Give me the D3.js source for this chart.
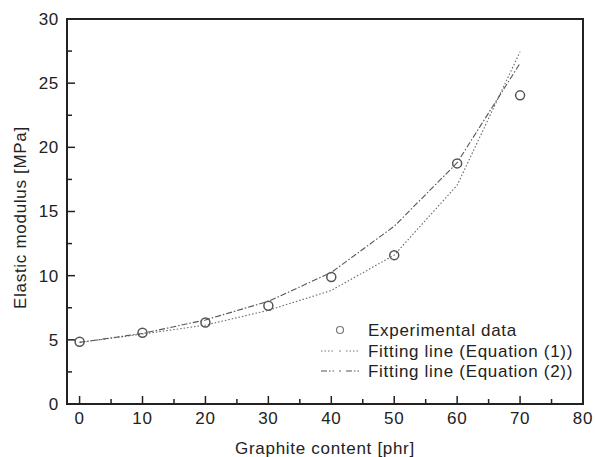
<!DOCTYPE html>
<html>
<head>
<meta charset="utf-8">
<script src="https://cdn.jsdelivr.net/npm/d3@7"></script>
<style>
  body { margin: 0; background: #fff; }
  svg text { font-family: "Liberation Sans", Arial, sans-serif; fill: #222; font-size: 17px; letter-spacing: 0.7px; }
</style>
</head>
<body>
<svg width="595" height="457"></svg>
<script>
const content = [0, 10, 20, 30, 40, 50, 60, 70];
const experimental = [4.85, 5.55, 6.35, 7.65, 9.9, 11.6, 18.75, 24.05];
const equation1 = [4.8, 5.45, 6.15, 7.3, 8.85, 11.6, 17.05, 27.45];
const equation2 = [4.8, 5.5, 6.55, 8.0, 10.25, 13.85, 18.8, 26.55];
const xTicks = [0, 10, 20, 30, 40, 50, 60, 70, 80];
const yTicks = [0, 5, 10, 15, 20, 25, 30];

const svg = d3.select("svg");
const plotLeft = 67, plotRight = 583, plotTop = 19, plotBottom = 404;

const x = d3.scaleLinear().domain([-2, 80]).range([plotLeft, plotRight]);
const y = d3.scaleLinear().domain([0, 30]).range([plotBottom, plotTop]);

const stroke = "#222";

// tick marks pointing inward
const g = svg.append("g");
d3.range(0, 81, 5).forEach((t) => {
  const len = t % 10 === 0 ? 8 : 5;
  g.append("line")
    .attr("x1", x(t)).attr("x2", x(t))
    .attr("y1", plotBottom).attr("y2", plotBottom - len)
    .attr("stroke", stroke).attr("stroke-width", 1.5);
});
d3.range(0, 30.1, 2.5).forEach((t) => {
  const len = t % 5 === 0 ? 8 : 5;
  g.append("line")
    .attr("y1", y(t)).attr("y2", y(t))
    .attr("x1", plotLeft).attr("x2", plotLeft + len)
    .attr("stroke", stroke).attr("stroke-width", 1.5);
});

// frame
svg.append("rect")
  .attr("x", plotLeft).attr("y", plotTop)
  .attr("width", plotRight - plotLeft).attr("height", plotBottom - plotTop)
  .attr("fill", "none").attr("stroke", stroke).attr("stroke-width", 2);

// tick labels
svg.append("g").selectAll("text").data(xTicks).join("text")
  .attr("x", (d) => x(d)).attr("y", 418).attr("dy", "0.35em")
  .attr("text-anchor", "middle")
  .text((d) => d);

svg.append("g").selectAll("text").data(yTicks).join("text")
  .attr("x", 59).attr("y", (d) => y(d)).attr("dy", "0.35em")
  .attr("text-anchor", "end")
  .text((d) => d);

// axis titles
svg.append("text")
  .attr("x", 325).attr("y", 448).attr("dy", "0.35em")
  .attr("text-anchor", "middle")
  .text("Graphite content [phr]");

svg.append("text")
  .attr("transform", `translate(20,${(plotTop + plotBottom) / 2 + 6}) rotate(-90)`)
  .attr("dy", "0.35em")
  .attr("text-anchor", "middle")
  .text("Elastic modulus [MPa]");

const line = (vals) =>
  d3.line().x((d, i) => x(content[i])).y((d) => y(d))(vals);

svg.append("path")
  .attr("d", line(equation1))
  .attr("fill", "none").attr("stroke", "#666").attr("stroke-width", 1.1)
  .attr("stroke-dasharray", "1.5,2");

svg.append("path")
  .attr("d", line(equation2))
  .attr("fill", "none").attr("stroke", "#555").attr("stroke-width", 1.1)
  .attr("stroke-dasharray", "6,2,1.5,2");

svg.append("g").selectAll("circle").data(experimental).join("circle")
  .attr("cx", (d, i) => x(content[i])).attr("cy", (d) => y(d))
  .attr("r", 4.5)
  .attr("fill", "none").attr("stroke", "#555").attr("stroke-width", 1.5);

// legend
const lg = svg.append("g");
const rows = [
  { label: "Experimental data", y: 330 },
  { label: "Fitting line (Equation (1))", y: 351, dash: "1.5,2", color: "#777" },
  { label: "Fitting line (Equation (2))", y: 371, dash: "6,2,1.5,2", color: "#555" },
];
rows.forEach((r) => {
  if (!r.dash) {
    lg.append("circle").attr("cx", 340).attr("cy", r.y)
      .attr("r", 3.5).attr("fill", "none")
      .attr("stroke", "#777").attr("stroke-width", 1.2);
  } else {
    [[321, 334], [346, 359]].forEach(([a, b]) => {
      lg.append("line")
        .attr("x1", a).attr("x2", b).attr("y1", r.y).attr("y2", r.y)
        .attr("stroke", r.color).attr("stroke-width", 1.1)
        .attr("stroke-dasharray", r.dash);
    });
    lg.append("circle").attr("cx", 340).attr("cy", r.y).attr("r", 0.8)
      .attr("fill", r.color);
  }
  lg.append("text")
    .attr("x", 368).attr("y", r.y).attr("dy", "0.35em")
    .text(r.label);
});
</script>
</body>
</html>
